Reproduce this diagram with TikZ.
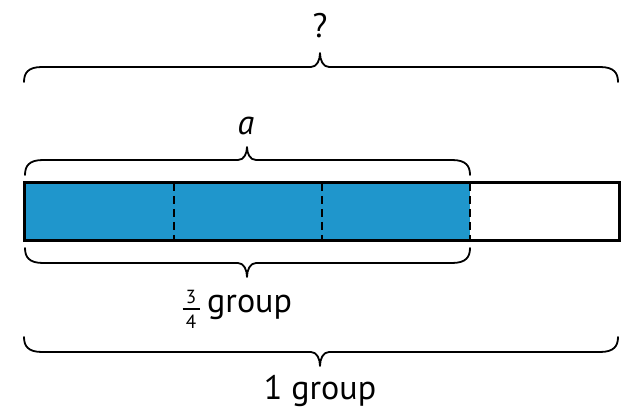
\documentclass[tikz,border=0pt]{standalone}
\usepackage{fontspec}
\setmainfont{PT Sans}
\definecolor{barblue}{RGB}{31,150,204}
\tikzset{
  bracestyle/.style={draw=black, line width=1.8pt, line cap=round, line join=round},
  lbl/.style={font=\fontsize{34}{40}\selectfont, inner sep=0pt, anchor=base},
  small/.style={font=\fontsize{19}{22}\selectfont, inner sep=0pt, anchor=base},
  divline/.style={draw=black, line width=1.8pt, dash pattern=on 8pt off 5pt},
}
% #1 x0, #2 x1, #3 xm, #4 y end, #5 y line, #6 y tip
\newcommand\mybrace[6]{%
  \draw[bracestyle] (#1,#4) .. controls (#1,{#4+(#5-#4)*0.6}) and (#1+4,#5) .. (#1+18,#5)
    -- (#3-9,#5) .. controls (#3-3,#5) and (#3,{#5+(#6-#5)*0.5}) .. (#3,#6)
    .. controls (#3,{#5+(#6-#5)*0.5}) and (#3+3,#5) .. (#3+9,#5)
    -- (#2-18,#5) .. controls (#2-4,#5) and (#2,{#4+(#5-#4)*0.6}) .. (#2,#4);%
}
\begin{document}
\begin{tikzpicture}[x=1pt,y=-1pt]
\useasboundingbox (0,0) rectangle (640,414);
% bar
\coordinate (barTL) at (24,183);
\coordinate (barBR) at (619,241);
\coordinate (blueBR) at (470,241);
\fill[barblue] (barTL) rectangle (blueBR);
\draw[divline] (174,183) -- (174,241);
\draw[divline] (322,183) -- (322,241);
\draw[divline] (470,183) -- (470,241);
\draw[line width=3pt] (barTL) rectangle (barBR);
% braces
\mybrace{24}{618}{320}{82}{67}{53}
\mybrace{25}{470}{247}{175}{160}{147}
\mybrace{25}{470}{247}{248}{263}{277}
\mybrace{24}{618}{320}{337}{352}{366}
% labels
\node[lbl] (q) at (320,38) {?};
\node[lbl] (a) at (246,135) {\itshape a};
\node[small] (num) at (191,303) {3};
\node[small] (den) at (191,328) {4};
\draw[line width=1.4pt] (182.5,309) -- (199.5,309);
\node[lbl, anchor=base west] (grp) at (207,312) {group};
\node[lbl] (one) at (320,399) {1 group};
\end{tikzpicture}
\end{document}
